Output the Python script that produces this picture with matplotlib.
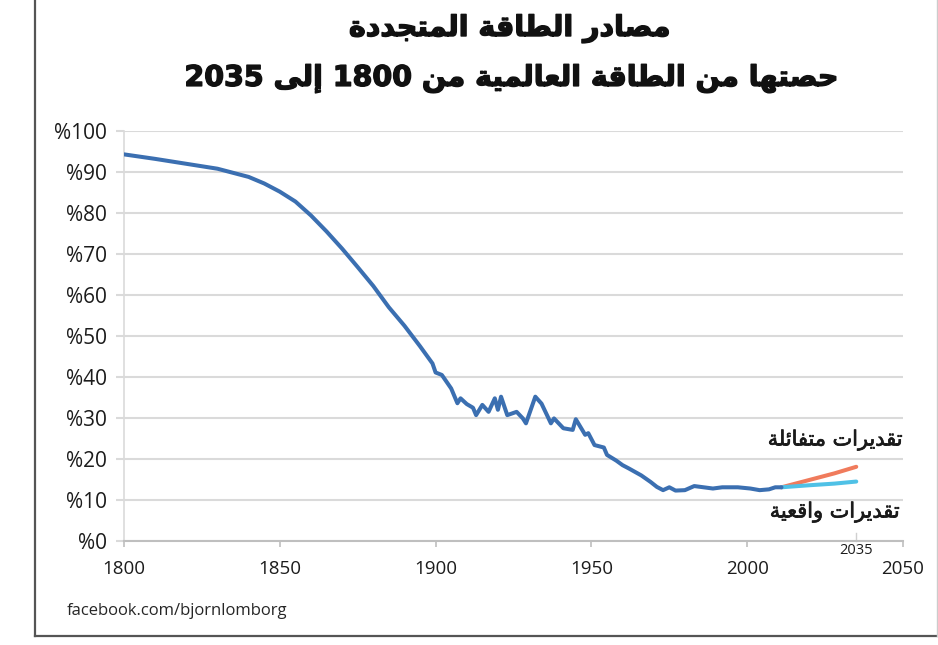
import re
import matplotlib
matplotlib.use("Agg")
import matplotlib.pyplot as plt
from matplotlib.lines import Line2D
import matplotlib.patheffects as pe

# ---------------- data ----------------
years_hist = [1800, 1810, 1820, 1830, 1840, 1845, 1850, 1855, 1860, 1865, 1870,
              1875, 1880, 1885, 1890, 1895, 1899, 1900, 1902, 1904, 1905, 1907,
              1908, 1910, 1912, 1913, 1915, 1917, 1919, 1920, 1921, 1923, 1926,
              1928, 1929, 1932, 1934, 1937, 1938, 1941, 1944, 1945, 1948, 1949,
              1951, 1954, 1955, 1958, 1960, 1962, 1966, 1969, 1971, 1973, 1975,
              1977, 1980, 1983, 1986, 1989, 1992, 1997, 2001, 2004, 2007, 2009,
              2011]
share_hist = [94.3, 93.2, 92.0, 90.8, 88.8, 87.2, 85.2, 82.8, 79.4, 75.5, 71.3,
              66.8, 62.2, 57.0, 52.5, 47.5, 43.3, 41.1, 40.5, 38.3, 37.2, 33.6,
              34.8, 33.4, 32.5, 30.7, 33.2, 31.5, 34.8, 32.0, 35.2, 30.7, 31.5,
              29.9, 28.7, 35.2, 33.5, 28.7, 29.9, 27.5, 27.1, 29.7, 25.9, 26.3,
              23.4, 22.8, 21.0, 19.6, 18.5, 17.7, 16.0, 14.4, 13.2, 12.4, 13.1,
              12.3, 12.4, 13.4, 13.1, 12.8, 13.1, 13.1, 12.8, 12.4, 12.6, 13.1,
              13.1]
proj_years = [2011, 2020, 2028, 2035]
optimistic = [13.1, 14.9, 16.5, 18.1]
realistic = [13.1, 13.6, 14.0, 14.5]

x_ticks = [1800, 1850, 1900, 1950, 2000, 2050]
y_ticks = [0, 10, 20, 30, 40, 50, 60, 70, 80, 90, 100]
y_ticklabels = ["%" + str(v) for v in y_ticks]

title_1 = "مصادر الطاقة المتجددة"
title_2 = "حصتها من الطاقة العالمية من 1800 إلى 2035"
label_opt = "تقديرات متفائلة"
label_real = "تقديرات واقعية"
source = "facebook.com/bjornlomborg"


# ------------- minimal Arabic shaping + visual ordering -------------
_FORMS = {0x0621: (0xFE80, 1), 0x0622: (0xFE81, 2), 0x0623: (0xFE83, 2),
          0x0624: (0xFE85, 2), 0x0625: (0xFE87, 2), 0x0626: (0xFE89, 4),
          0x0627: (0xFE8D, 2), 0x0628: (0xFE8F, 4), 0x0629: (0xFE93, 2),
          0x062A: (0xFE95, 4), 0x062B: (0xFE99, 4), 0x062C: (0xFE9D, 4),
          0x062D: (0xFEA1, 4), 0x062E: (0xFEA5, 4), 0x062F: (0xFEA9, 2),
          0x0630: (0xFEAB, 2), 0x0631: (0xFEAD, 2), 0x0632: (0xFEAF, 2),
          0x0633: (0xFEB1, 4), 0x0634: (0xFEB5, 4), 0x0635: (0xFEB9, 4),
          0x0636: (0xFEBD, 4), 0x0637: (0xFEC1, 4), 0x0638: (0xFEC5, 4),
          0x0639: (0xFEC9, 4), 0x063A: (0xFECD, 4), 0x0641: (0xFED1, 4),
          0x0642: (0xFED5, 4), 0x0643: (0xFED9, 4), 0x0644: (0xFEDD, 4),
          0x0645: (0xFEE1, 4), 0x0646: (0xFEE5, 4), 0x0647: (0xFEE9, 4),
          0x0648: (0xFEED, 2), 0x0649: (0xFEEF, 2), 0x064A: (0xFEF1, 4)}
_LAMALEF = {0x0622: 0xFEF5, 0x0623: 0xFEF7, 0x0625: 0xFEF9, 0x0627: 0xFEFB}


def arabic(text):
    toks = []
    i = 0
    while i < len(text):
        c = ord(text[i])
        if c == 0x0644 and i + 1 < len(text) and ord(text[i + 1]) in _LAMALEF:
            toks.append((_LAMALEF[ord(text[i + 1])], 2))
            i += 2
            continue
        toks.append(_FORMS.get(c, text[i]))
        i += 1
    out = []
    for k, t in enumerate(toks):
        if isinstance(t, str):
            out.append(t)
            continue
        base, n = t
        prev = toks[k - 1] if k > 0 else None
        nxt = toks[k + 1] if k + 1 < len(toks) else None
        jp = isinstance(prev, tuple) and prev[1] == 4 and n >= 2
        jn = n == 4 and isinstance(nxt, tuple) and nxt[1] >= 2
        if jp and jn:
            out.append(chr(base + 3))
        elif jp:
            out.append(chr(base + 1))
        elif jn:
            out.append(chr(base + 2))
        else:
            out.append(chr(base))
    vis = "".join(out)[::-1]
    return re.sub(r"[0-9]+", lambda m: m.group(0)[::-1], vis)


# ---------------- figure ----------------
W, H = 938, 645
fig = plt.figure(figsize=(W / 100, H / 100), dpi=100)
fig.patch.set_facecolor("white")


def fx(px):
    return px / W


def fy(py):
    return 1 - py / H


ax = fig.add_axes([fx(124), fy(541), fx(903) - fx(124), fy(131) - fy(541)])
ax.set_xlim(1800, 2050)
ax.set_ylim(0, 100)

grid_c = "#dadada"
ax.set_yticks(y_ticks)
ax.set_yticklabels(y_ticklabels)
ax.set_xticks(x_ticks)
ax.set_xticklabels([str(v) for v in x_ticks])
ax.grid(axis="y", color=grid_c, lw=1.5)
ax.set_axisbelow(True)
for s in ["top", "right"]:
    ax.spines[s].set_visible(False)
ax.spines["left"].set_color(grid_c)
ax.spines["left"].set_linewidth(1.2)
ax.spines["bottom"].set_color("#bfbfbf")
ax.spines["bottom"].set_linewidth(1.5)
ax.tick_params(axis="y", length=6, width=1.5, color=grid_c, pad=6,
               labelsize=15, labelcolor="#1c1c1c")
ax.tick_params(axis="x", length=4, width=1.2, color="#bfbfbf", pad=10,
               labelsize=13.5, labelcolor="#1c1c1c")
for lab in ax.get_xticklabels() + ax.get_yticklabels():
    lab.set_fontfamily(["Open Sans", "DejaVu Sans"])

ax.plot(years_hist, share_hist, color="#3b6fb1", lw=2.9, solid_joinstyle="round",
        solid_capstyle="round", zorder=3)
ax.plot(proj_years, optimistic, color="#f07b5c", lw=2.9, solid_capstyle="round", zorder=2)
ax.plot(proj_years, realistic, color="#4fc1e6", lw=2.9, solid_capstyle="round", zorder=2)

# 2035 marker
ax.plot([2035, 2035], [0, 2], color="#d0d0d0", lw=1, clip_on=False)
ax.text(2035, -0.6, "2035", ha="center", va="top", fontsize=10.5,
        color="#1c1c1c", family=["Open Sans", "DejaVu Sans"])

# annotations
thin = [pe.withStroke(linewidth=0.5, foreground="#1a1a1a")]
fig.text(fx(903), fy(440), arabic(label_opt), ha="right", va="center",
         fontsize=15, color="#1a1a1a", family="DejaVu Sans", path_effects=thin)
fig.text(fx(900), fy(512), arabic(label_real), ha="right", va="center",
         fontsize=15, color="#1a1a1a", family="DejaVu Sans", path_effects=thin)

# titles
heavy = [pe.withStroke(linewidth=1.0, foreground="#111111")]
fig.text(fx(510), fy(29), arabic(title_1), ha="center", va="center",
         fontsize=20.5, weight="bold", color="#111111", family="DejaVu Sans",
         path_effects=heavy)
fig.text(fx(512), fy(79), arabic(title_2), ha="center", va="center",
         fontsize=20.5, weight="bold", color="#111111", family="DejaVu Sans",
         path_effects=heavy)

# source
fig.text(fx(67), fy(611), source, ha="left", va="center", fontsize=12,
         color="#262626", family=["Open Sans", "DejaVu Sans"])

# page borders
fig.add_artist(Line2D([fx(35), fx(35)], [fy(0), fy(636)], color="#555555", lw=1.6))
fig.add_artist(Line2D([fx(35), fx(938)], [fy(636), fy(636)], color="#555555", lw=1.6))
fig.add_artist(Line2D([fx(937), fx(937)], [fy(0), fy(636)], color="#cccccc", lw=1.0))

fig.savefig("out.png", dpi=100, facecolor="white")
